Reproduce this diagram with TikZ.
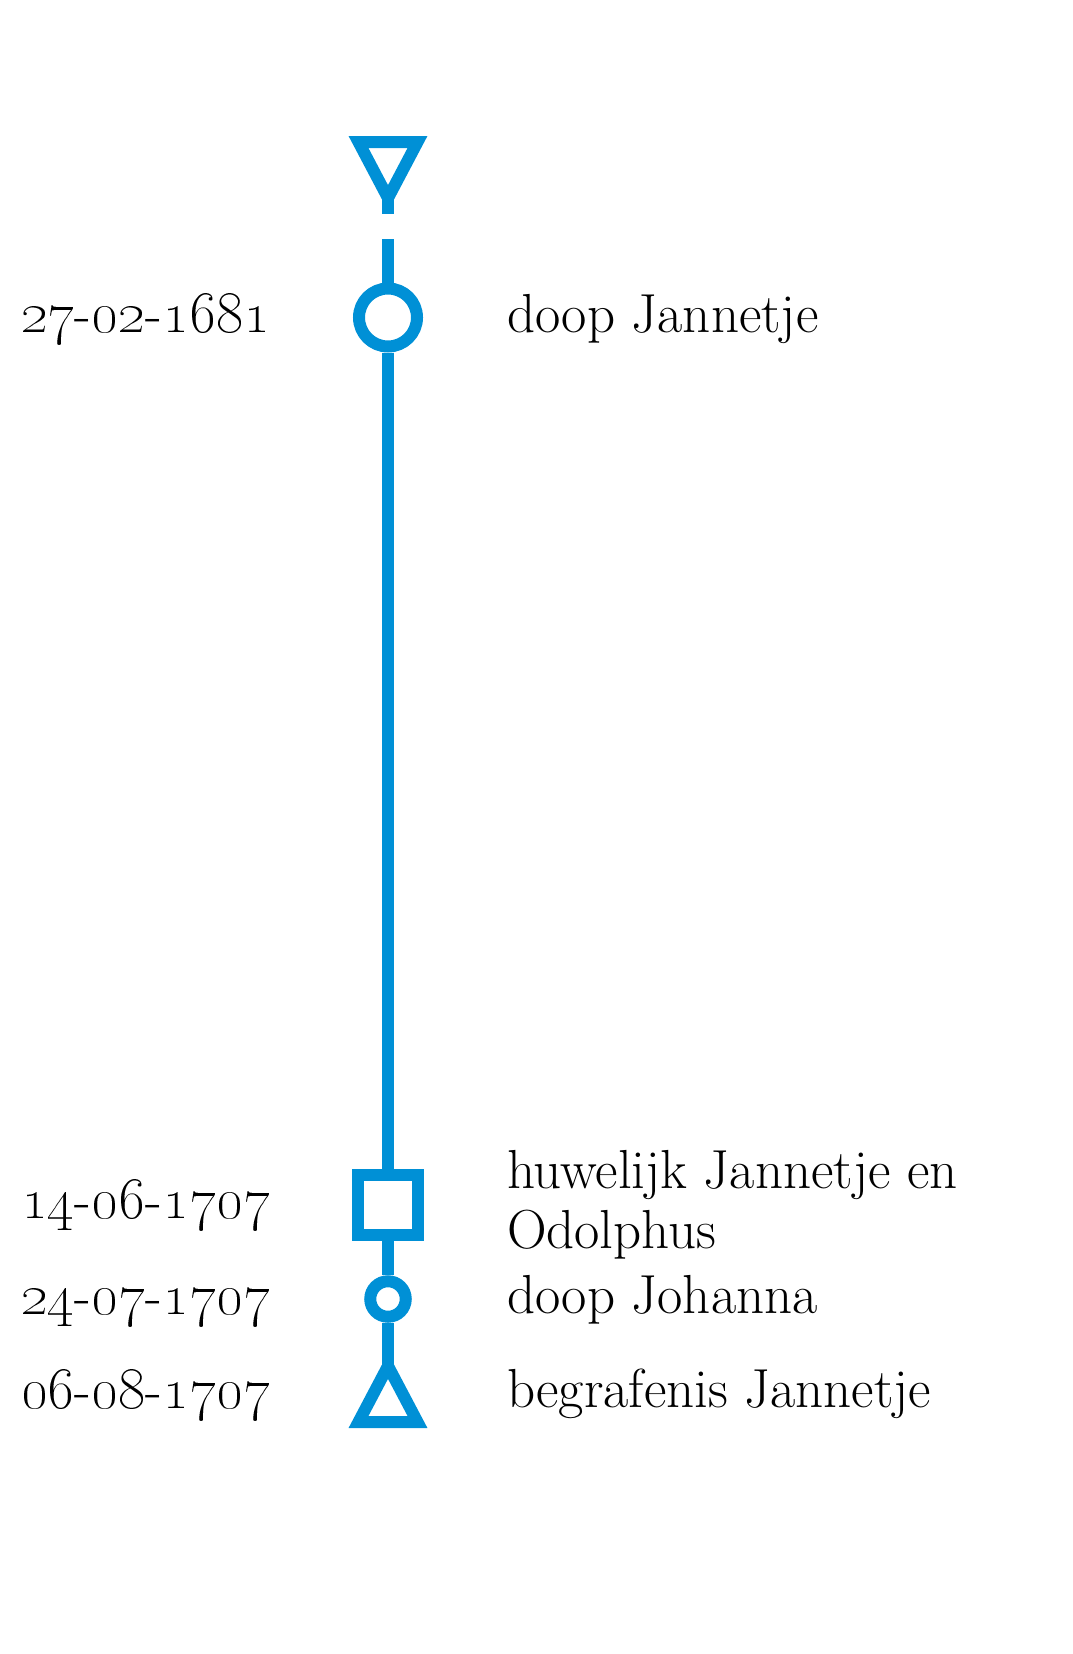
\documentclass[tikz,border=0pt]{standalone}
\usetikzlibrary{positioning}
\definecolor{tlblue}{RGB}{0,144,214}
\newcommand{\datum}[3]{\oldstylenums{#1}-\oldstylenums{#2}-\oldstylenums{#3}}
\begin{document}
\begin{tikzpicture}[x=0.5pt, y=-0.5pt,
  every node/.style={inner sep=0pt, outer sep=0pt},
  txt/.style={font=\fontsize{27.5}{30}\selectfont},
  tline/.style={draw=tlblue, line width=6pt},
  ring/.style={circle, draw=tlblue, line width=6pt, fill=white, outer sep=3pt},
  box/.style={rectangle, draw=tlblue, line width=6pt, fill=white, minimum size=30pt, outer sep=3pt}]
\useasboundingbox (0,0) rectangle (1072,1654);
% events on the line
\node[ring, minimum size=29pt] at (388,317.5) (doopJ) {};
\node[box] at (388,1204.5) (huw) {};
\node[ring, minimum size=17.75pt] at (388,1299) (doopJo) {};
\coordinate (topapex) at (388,198);
\coordinate (stem) at (388,214);
\coordinate (start) at (388,239);
\coordinate (endapex) at (388,1366);
%begin and end markers
\draw[tline, line join=miter] (358.5,142) -- (417.5,142) -- (topapex) -- cycle;
\draw[tline] (topapex) -- (stem);
\draw[tline, line join=miter] (358.5,1422) -- (417.5,1422) -- (endapex) -- cycle;
% the line itself
\draw[tline] (start) -- (doopJ);
\draw[tline] (doopJ) -- (huw);
\draw[tline] (huw) -- (doopJo);
\draw[tline] (doopJo) -- (endapex);
% dates
\node[txt, anchor=base east] at (270,332) (d1) {\datum{27}{02}{1681}};
\node[txt, anchor=base east] at (270,1218) (d2) {\datum{14}{06}{1707}};
\node[txt, anchor=base east] at (270,1314) (d3) {\datum{24}{07}{1707}};
\node[txt, anchor=base east] at (270,1408) (d4) {\datum{06}{08}{1707}};
% labels
\node[txt, anchor=base west] at (507,332) (l1) {doop Jannetje};
\node[txt, anchor=base west, align=left] at (507,1248) (l2) {huwelijk Jannetje en\\Odolphus};
\node[txt, anchor=base west] at (507,1313) (l3) {doop Johanna};
\node[txt, anchor=base west] at (507,1407) (l4) {begrafenis Jannetje};
\end{tikzpicture}
\end{document}
